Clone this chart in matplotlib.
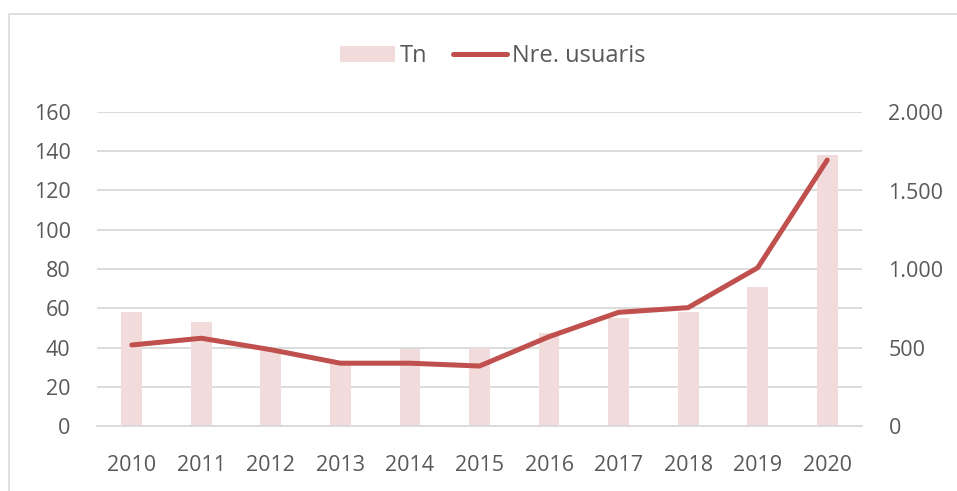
import matplotlib.pyplot as plt
from matplotlib.patches import Rectangle
from matplotlib.ticker import FuncFormatter

# data
years = ["2010", "2011", "2012", "2013", "2014", "2015",
         "2016", "2017", "2018", "2019", "2020"]
tn = [58, 53, 38, 32, 39, 40, 47.5, 55, 58, 71, 138]
usuaris = [516, 559, 486, 400, 400, 382, 569, 724, 754, 1008, 1694]

plt.rcParams["font.family"] = ["Open Sans", "DejaVu Sans"]
TXT = "#595959"
GRID = "#d9d9d9"
FS = 15.5

fig = plt.figure(figsize=(9.57, 4.91), dpi=100)
ax = fig.add_axes([97 / 957, 65 / 491, 765 / 957, 314 / 491])
ax2 = ax.twinx()

x = list(range(len(years)))
bars = ax.bar(x, tn, width=0.30, color="#F2DCDB", zorder=2, label="Tn")
line, = ax2.plot(x, usuaris, color="#C0504D", lw=3.6,
                 solid_capstyle="round", solid_joinstyle="round",
                 label="Nre. usuaris", zorder=3)

ax.set_xlim(-0.5, len(years) - 0.5)
ax.set_ylim(0, 160)
ax.set_yticks(range(0, 161, 20))
ax2.set_ylim(0, 2000)
ax2.set_yticks(range(0, 2001, 500))
ax2.yaxis.set_major_formatter(FuncFormatter(lambda v, p: f"{int(v):,}".replace(",", ".")))

ax.set_xticks(x)
ax.set_xticklabels(years)
ax.grid(axis="y", color=GRID, lw=1.3, zorder=0)
ax.set_axisbelow(True)

for a in (ax, ax2):
    for s in a.spines.values():
        s.set_visible(False)
    a.tick_params(length=0, labelsize=FS, colors=TXT)
ax.tick_params(axis="y", pad=19)
ax.tick_params(axis="x", pad=21)
ax2.tick_params(axis="y", pad=19)
ax.spines["bottom"].set_visible(True)
ax.spines["bottom"].set_color(GRID)
ax.spines["bottom"].set_linewidth(1.3)

ax2.set_zorder(ax.get_zorder() + 1)
ax2.patch.set_visible(False)

fig.legend([bars, line], ["Tn", "Nre. usuaris"], loc="center",
           bbox_to_anchor=(0.515, 0.886), ncol=2, frameon=False,
           fontsize=17, labelcolor=TXT, handlelength=2.3,
           handleheight=0.65, columnspacing=1.1, handletextpad=0.2)

# chart frame (only its top and left edges fall inside the crop)
top = 1 - 14 / 491
fig.add_artist(Rectangle((9 / 957, -0.05), 1.2, top + 0.05,
                         transform=fig.transFigure, fill=False,
                         edgecolor=GRID, lw=1.2))

fig.savefig("out.png", dpi=100)
